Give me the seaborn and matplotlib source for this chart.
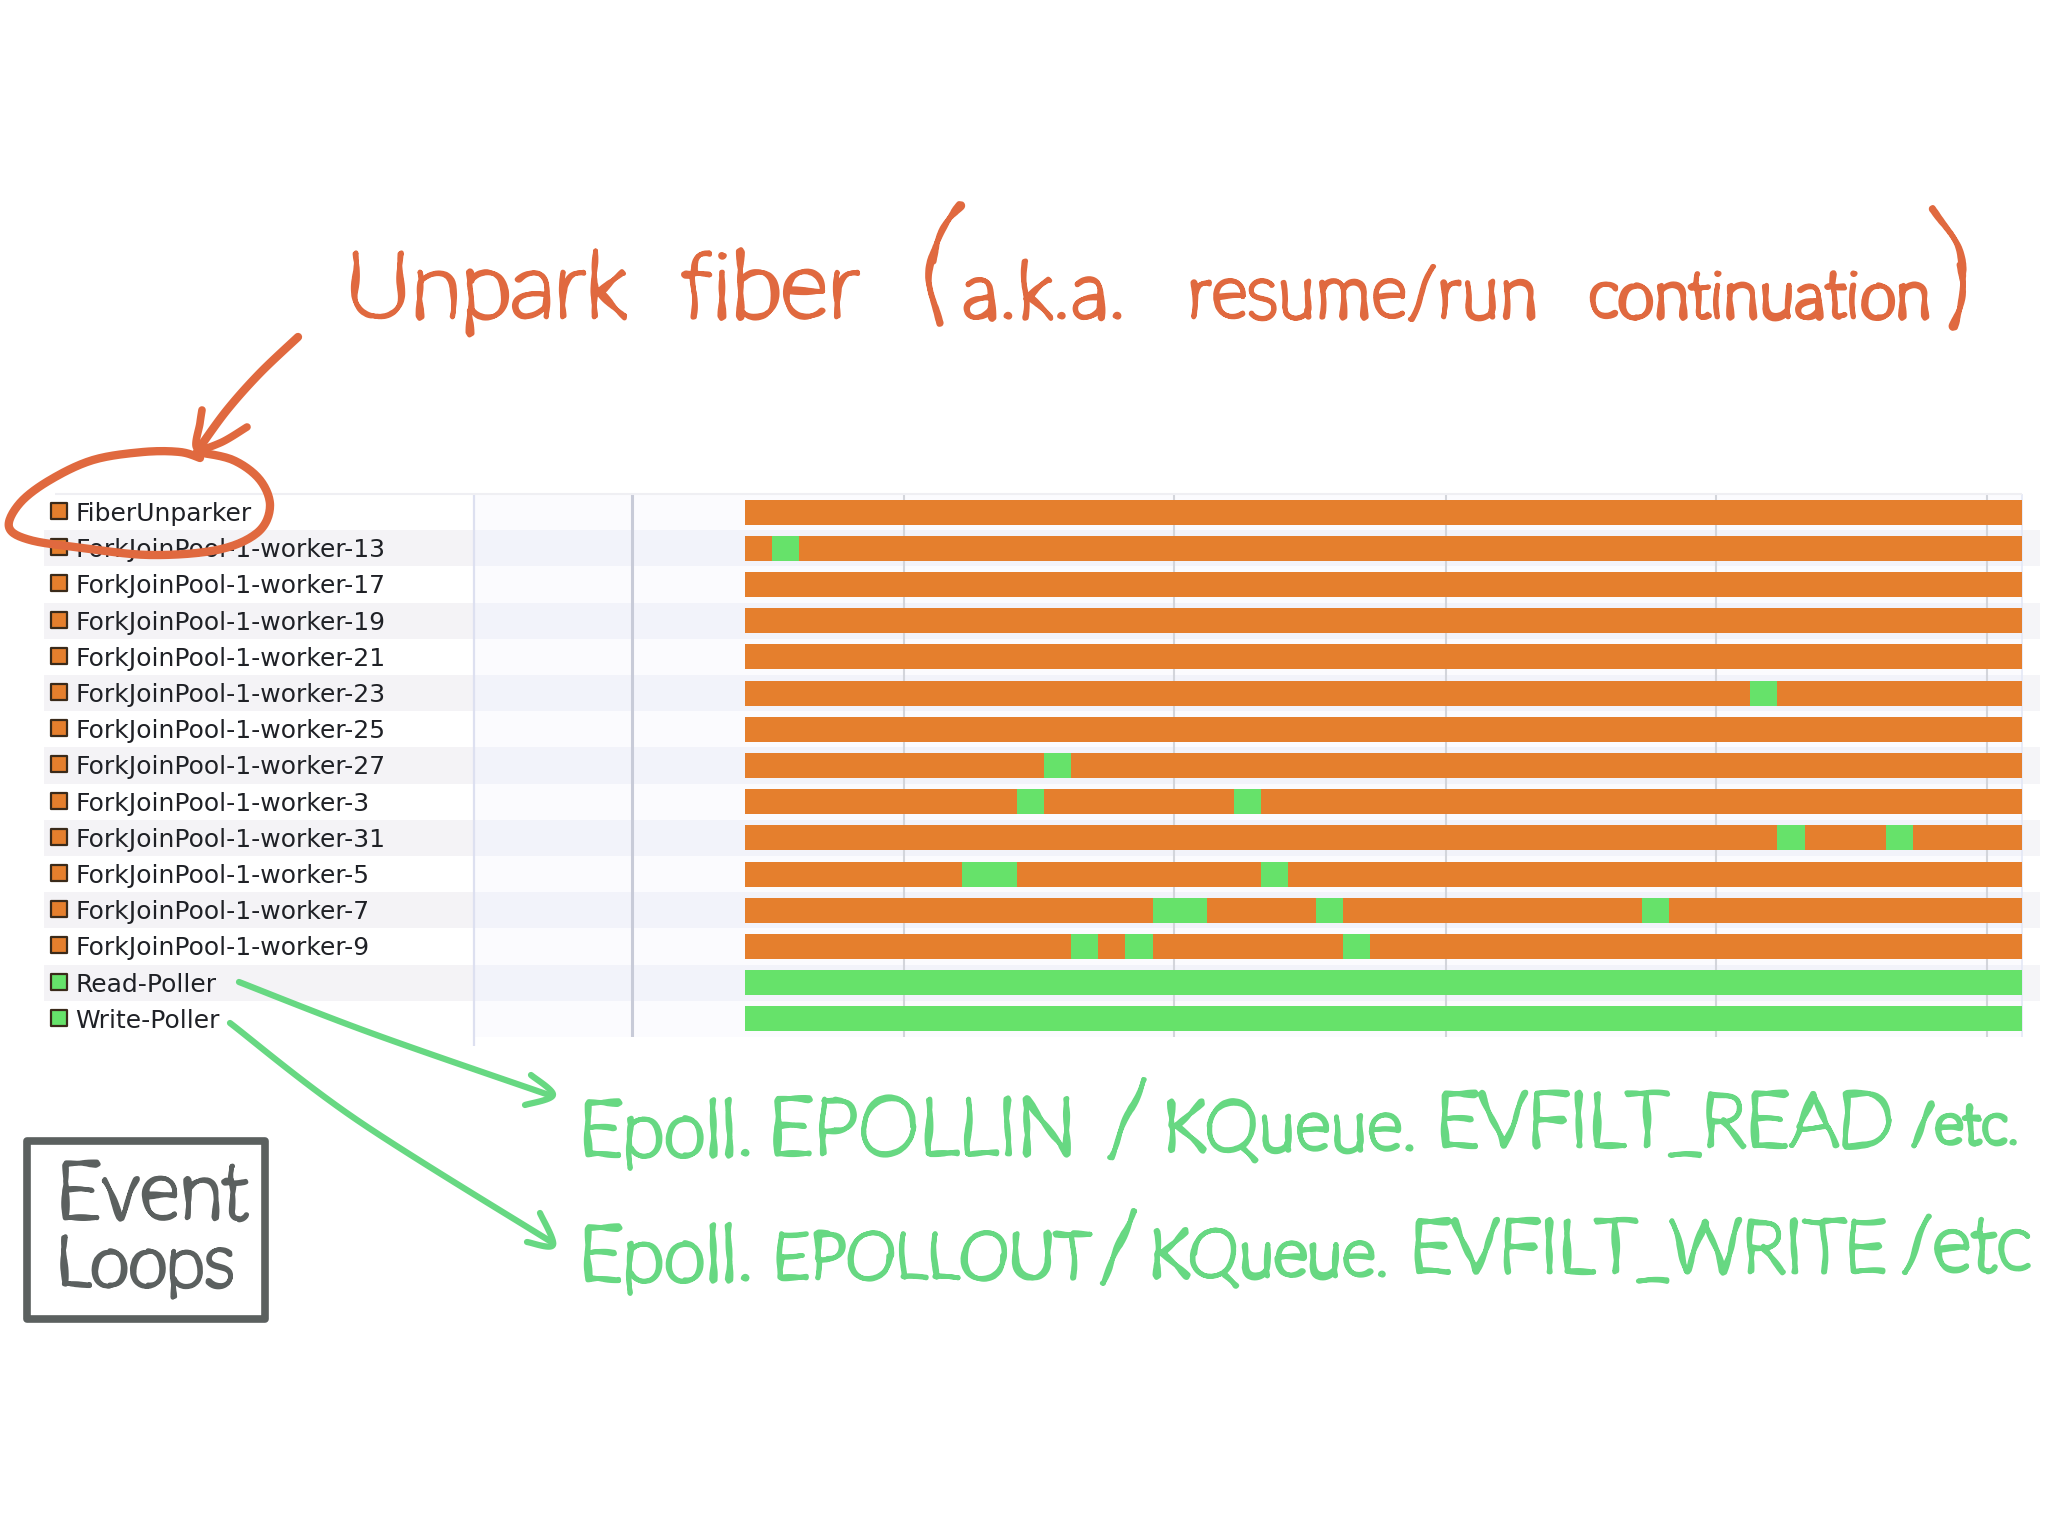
import matplotlib
matplotlib.use('Agg')
import matplotlib.pyplot as plt
import matplotlib.patheffects as pe
import numpy as np
import pandas as pd
import seaborn as sns

from matplotlib.patches import Rectangle

## Data
threads = ['FiberUnparker', 'ForkJoinPool-1-worker-13', 'ForkJoinPool-1-worker-17', 'ForkJoinPool-1-worker-19',
           'ForkJoinPool-1-worker-21', 'ForkJoinPool-1-worker-23', 'ForkJoinPool-1-worker-25', 'ForkJoinPool-1-worker-27',
           'ForkJoinPool-1-worker-3', 'ForkJoinPool-1-worker-31', 'ForkJoinPool-1-worker-5', 'ForkJoinPool-1-worker-7',
           'ForkJoinPool-1-worker-9', 'Read-Poller', 'Write-Poller']
base_state = ['waiting'] * 13 + ['running'] * 2
total_time = [47] * 15

run_thread = ['ForkJoinPool-1-worker-13', 'ForkJoinPool-1-worker-23', 'ForkJoinPool-1-worker-27',
              'ForkJoinPool-1-worker-3', 'ForkJoinPool-1-worker-3',
              'ForkJoinPool-1-worker-31', 'ForkJoinPool-1-worker-31',
              'ForkJoinPool-1-worker-5', 'ForkJoinPool-1-worker-5',
              'ForkJoinPool-1-worker-7', 'ForkJoinPool-1-worker-7', 'ForkJoinPool-1-worker-7',
              'ForkJoinPool-1-worker-9', 'ForkJoinPool-1-worker-9', 'ForkJoinPool-1-worker-9']
run_start = [1, 37, 11, 10, 18, 38, 42, 8, 19, 15, 21, 33, 12, 14, 22]
run_length = [1, 1, 1, 1, 1, 1, 1, 2, 1, 2, 1, 1, 1, 1, 1]

tick_times = [5.85, 15.8, 25.8, 35.75, 45.7]
marker_times = [-9.97, -4.16]

## Colours
orange = '#E57F2D'
green = '#66E26A'
ink_orange = '#E0693F'
ink_green = '#67D882'
ink_grey = '#5B605F'
state_colors = {'waiting': orange, 'running': green}

## Layout, in pixels of the 2048x1536 figure
W, H = 2048, 1536
axes_left, axes_right, axes_top, axes_bottom = 44, 2040, 494, 1037
time_zero_px, time_unit_px = 745, 27.17


def px2time(px):
    return (px - time_zero_px) / time_unit_px


class InkEffect(pe.AbstractPathEffect):
    """ Strokes a glyph with round joins and a slight wobble so that it reads like a marker pen """
    def __init__(self, width=3.0, scale=1.6, length=70):
        super().__init__()
        self.width, self.scale, self.length = width, scale, length

    def draw_path(self, renderer, gc, tpath, affine, rgbFace=None):
        gc0 = renderer.new_gc()
        gc0.copy_properties(gc)
        gc0.set_linewidth(self.width)
        if rgbFace is not None:
            gc0.set_foreground(rgbFace)
        gc0.set_joinstyle('round')
        gc0.set_capstyle('round')
        gc0.set_sketch_params(self.scale, self.length, 2)
        renderer.draw_path(gc0, tpath, affine, rgbFace)
        gc0.restore()


def writeWord(ax, text, x0, x1, baseline, color, width=3.0):
    """ Writes one word between x0 and x1 by choosing the font size that fills that width """
    t = ax.text(x0, baseline, text, color=color, family='Lato', weight='light', fontsize=50, ha='left', va='baseline',
                path_effects=[InkEffect(width)])
    renderer = ax.figure.canvas.get_renderer()
    extent = t.get_window_extent(renderer)
    t.set_fontsize(50 * (x1 - x0) / extent.width)
    return t


def strokeCurve(ax, pts, color, lw):
    """ Draws a smooth pen stroke through the given pixel points (Catmull-Rom) """
    pts = np.array(pts, dtype=float)
    p = np.vstack([pts[0], pts, pts[-1]])
    out = []
    for i in range(1, len(p) - 2):
        for s in np.linspace(0, 1, 16):
            out.append(0.5 * (2 * p[i] + (p[i + 1] - p[i - 1]) * s
                              + (2 * p[i - 1] - 5 * p[i] + 4 * p[i + 1] - p[i + 2]) * s ** 2
                              + (3 * p[i] - p[i - 1] - 3 * p[i + 1] + p[i + 2]) * s ** 3))
    out = np.array(out)
    ax.plot(out[:, 0], out[:, 1], color=color, lw=lw, solid_capstyle='round', solid_joinstyle='round')


## Figure
sns.set_theme(style='white')
plt.rcParams['font.family'] = ['DejaVu Sans']
fig = plt.figure(figsize=(W / 100, H / 100), dpi=100, facecolor='white')
fig.canvas.draw()

ax = fig.add_axes([axes_left / W, 1 - axes_bottom / H, (axes_right - axes_left) / W, (axes_bottom - axes_top) / H])

df_base = pd.DataFrame({'thread': threads, 'time': total_time, 'state': base_state})
df_run = pd.DataFrame({'thread': run_thread, 'start': run_start, 'length': run_length})

# thread bars
sns.barplot(data=df_base, y='thread', x='time', hue='state', order=threads, palette=state_colors, dodge=False,
            width=0.69, legend=False, linewidth=0, ax=ax, zorder=3)
for _, seg in df_run.iterrows():
    sns.barplot(y=[seg['thread']], x=[seg['length']], order=threads, color=green, width=0.69, left=seg['start'],
                linewidth=0, saturation=1, ax=ax, zorder=4)
for patch in ax.patches:
    if patch.get_width() == 47:
        patch.set_facecolor(orange if patch.get_y() < 12.5 else green)

ax.set_xlim(px2time(axes_left), px2time(axes_right))
ax.set_ylim(14.5, -0.5)
ax.set_xlabel('')
ax.set_ylabel('')
ax.set_xticks([])
ax.set_yticks([])
sns.despine(ax=ax, left=True, bottom=True)
ax.patch.set_alpha(0)

# row stripes and guide lines behind the bars
rows = np.arange(len(threads))
ax.axvspan(px2time(474), px2time(2022), color='#FBFBFE', lw=0, zorder=0)
for row in rows[1::2]:
    ax.fill_between([px2time(axes_left), px2time(474)], row - 0.5, row + 0.5, color='#F4F3F6', lw=0, zorder=1)
    ax.fill_between([px2time(474), px2time(2022)], row - 0.5, row + 0.5, color='#F2F3FA', lw=0, zorder=1)
    ax.fill_between([px2time(2022), px2time(axes_right)], row - 0.5, row + 0.5, color='#F5F5F8', lw=0, zorder=1)
ax.vlines(marker_times[0], -0.5, 14.75, color='#DDE0F0', lw=1.6, zorder=2, clip_on=False)
ax.vlines(marker_times[1], -0.5, 14.5, color='#C8CBD8', lw=2.2, zorder=2)
ax.vlines(tick_times, -0.5, 14.5, color='#D3D5DB', lw=1.5, zorder=2)
ax.vlines(47, -0.5, 14.5, color='#E4E8F6', lw=1.2, zorder=2)
ax.hlines(-0.5, px2time(55), px2time(2022), color='#EFEFF3', lw=1.5, zorder=2, clip_on=False)

# thread names with their state swatch
sns.scatterplot(x=[px2time(59)] * len(threads), y=rows - 0.03, marker='s', s=130, ax=ax, zorder=5, linewidth=1.6,
                edgecolor='#3A2A1A', c=[state_colors[s] for s in base_state], legend=False)
for row, name in zip(rows, threads):
    ax.text(px2time(75), row + 0.05, name, fontsize=18, color='#1F2126', ha='left', va='center', zorder=5)
ax.set_xlabel('')
ax.set_ylabel('')

## Hand written notes on top, in figure pixels
ink = fig.add_axes([0, 0, 1, 1], facecolor='none')
ink.set_xlim(0, W)
ink.set_ylim(H, 0)
ink.axis('off')

orange_words = [('Unpark', 345, 627, 317), ('fiber', 682, 860, 317), ('a.k.a.', 962, 1126, 318),
                ('resume/run', 1187, 1538, 317), ('continuation', 1588, 1931, 317)]
for word, x0, x1, base in orange_words:
    writeWord(ink, word, x0, x1, base, ink_orange, width=3.4)
ink.text(938, 269, '(', color=ink_orange, family='Lato', weight='light', fontsize=100, ha='center', va='center',
         rotation=-10, path_effects=[InkEffect(3.8)])
ink.text(1955, 272, ')', color=ink_orange, family='Lato', weight='light', fontsize=100, ha='center', va='center',
         rotation=10, path_effects=[InkEffect(3.8)])

green_words = [('Epoll.', 579, 754, 1155), ('EPOLLIN', 768, 1076, 1154), ('/', 1105, 1149, 1154),
               ('KQueue.', 1163, 1418, 1150), ('EVFILT_READ', 1436, 1894, 1146), ('/etc.', 1911, 2020, 1144),
               ('Epoll.', 579, 754, 1280), ('EPOLLOUT', 773, 1091, 1278), ('/', 1098, 1139, 1280),
               ('KQueue.', 1149, 1390, 1276), ('EVFILT_WRITE', 1410, 1887, 1272), ('/etc', 1901, 2032, 1270)]
for word, x0, x1, base in green_words:
    writeWord(ink, word, x0, x1, base, ink_green, width=3.4)

writeWord(ink, 'Event', 56, 248, 1218, ink_grey, width=3.2)
writeWord(ink, 'Loops', 56, 234, 1285, ink_grey, width=3.2)
ink.add_patch(Rectangle((27, 1141), 238, 178, fill=False, edgecolor=ink_grey, lw=5.5, joinstyle='round'))

# circle round FiberUnparker and the arrow pointing at it
strokeCurve(ink, [(197, 452), (233, 460), (260, 480), (270, 507), (257, 533), (217, 550), (150, 555), (83, 548),
                  (30, 540), (9, 527), (20, 503), (50, 480), (93, 460), (143, 452), (180, 452), (200, 458)], ink_orange, 6)
strokeCurve(ink, [(298, 337), (260, 373), (227, 410), (200, 447)], ink_orange, 6)
strokeCurve(ink, [(202, 410), (200, 423), (197, 448), (220, 443), (247, 427)], ink_orange, 5.5)

# arrows from the pollers
strokeCurve(ink, [(239, 982), (371, 1033), (549, 1095)], ink_green, 4.5)
strokeCurve(ink, [(531, 1075), (553, 1095), (525, 1105)], ink_green, 4.5)
strokeCurve(ink, [(230, 1023), (357, 1120), (553, 1243)], ink_green, 4.5)
strokeCurve(ink, [(540, 1213), (553, 1245), (527, 1242)], ink_green, 4.5)

fig.savefig('out.png', dpi=100)
